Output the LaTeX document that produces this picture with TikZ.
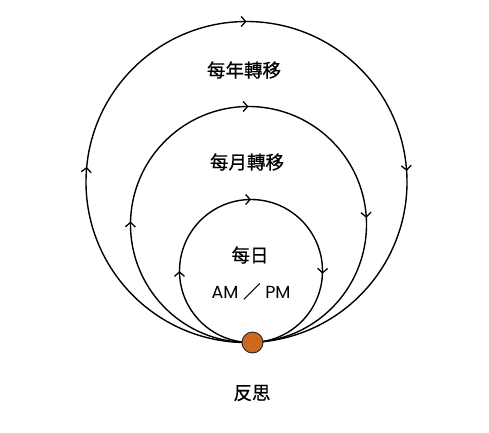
\documentclass[tikz,border=0pt]{standalone}
\usepackage{fontspec}
\newfontfamily\cjk[FakeBold=0.6]{Noto Sans CJK TC}
\newfontfamily\ampm{Poppins}
\usetikzlibrary{arrows.meta,decorations.markings,calc,positioning}
\definecolor{dotc}{RGB}{206,104,30}

\begin{document}
\begin{tikzpicture}[x=1pt,y=1pt]
\tikzset{barb/.tip={Straight Barb[length=4.5pt,width=10pt,line width=1.3pt]},
  orbit/.style 2 args={line width=1.4pt,postaction={decorate},decoration={markings,
    mark=at position #1 with {\arrow{barb}},
    mark=at position .5 with {\arrow{barb}},
    mark=at position #2 with {\arrow{barb}}}},
  lab/.style={font=\cjk\fontsize{18.5}{20}\selectfont,inner sep=0pt}}
\useasboundingbox (0,0) rectangle (489,432);

\coordinate (R) at (252.5,89.5);
\foreach \dx/\r/\pl/\pr/\n in {-6/160.5/.265/.739/year,-4/118/.254/.741/month,-1.5/71.5/.25/.756/day}
  \draw[orbit={\pl}{\pr}] ($(R)+(\dx,0)$) coordinate (\n) arc[start angle=-90,end angle=-450,radius=\r];

\node[lab] (yr) at (244,362) {每年轉移};
\node[lab] (mo) at (247,270) {每月轉移};
\node[lab] (dy) at (250,177) {每日};
\node[font=\ampm\fontsize{17.5}{20}\selectfont,inner sep=0pt,anchor=base] (ap) at (251,134) {AM {\cjk ／} PM};
\node[lab] (rf) at (252,39) {反思};
\node[circle,draw=black!85,line width=.9pt,fill=dotc,minimum size=21pt,inner sep=0pt] (dot) at (R) {};
\end{tikzpicture}
\end{document}
